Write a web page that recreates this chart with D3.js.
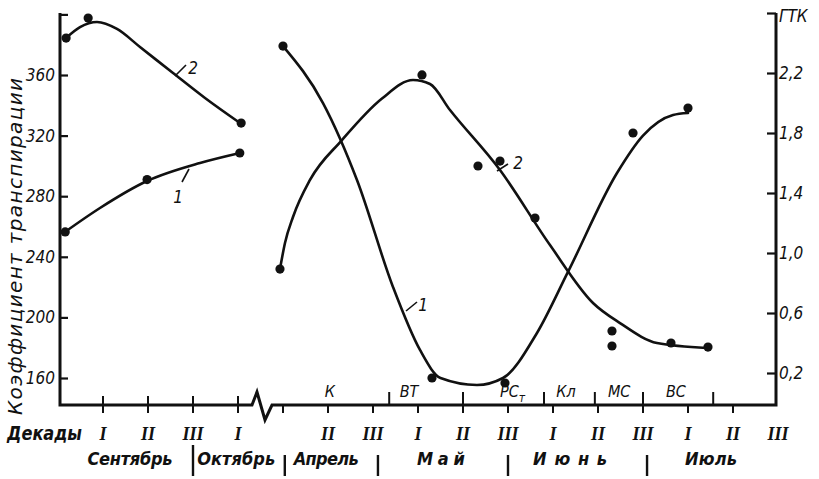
<!DOCTYPE html>
<html><head><meta charset="utf-8">
<script src="https://cdn.jsdelivr.net/npm/d3@7"></script>
<style>
body{margin:0;background:#fff;}
svg text{font-family:"Liberation Sans Narrow","DejaVu Sans Condensed","Liberation Sans",sans-serif;font-style:italic;fill:#111;}
svg text.roman{font-family:"Liberation Serif","DejaVu Serif",serif;font-weight:bold;}
svg text.wide{font-family:"DejaVu Sans",sans-serif;}
</style></head><body>
<svg id="c" width="819" height="479"></svg>
<script>
// ---------- data (x = decade index: Sep I = 0 … Jul III = 15) ----------
const decadeLabels = ["I","II","III","I","","II","III","I","II","III","I","II","III","I","II","III"];
const months = ["Сентябрь","Октябрь","Апрель","Май","Июнь","Июль"];
const monthCenters = [0.6, 2.96, 4.96, 7.51, 10.38, 13.51];
const monthBounds = [2.0, 4.04, 6.11, 9.0, 12.09];
const stages = ["К","ВТ","РС","Кл","МС","ВС"];
const stageCenters = [5.04, 6.8, 9.1, 10.29, 11.47, 12.73];
const stageBounds = [6.36, 8, 9.8, 10.93, 12, 13.56];
const leftTicks = [160,200,240,280,320,360,400];
const rightTicks = [0.2,0.6,1.0,1.4,1.8,2.2,2.6];

// autumn (Sep–Oct), transpiration coefficient
const autumn1Curve = [[-0.844,256.4],[-0.067,272.2],[0.978,290.0],[2.156,301.9],[3.044,308.5]];
const autumn1Dots  = [[-0.84,256.4],[0.98,291],[3.04,308.5]];
const autumn2Curve = [[-0.822,384.4],[-0.511,391.6],[-0.133,395.0],[0.311,390.4],[0.822,378.5],[1.556,361.3],[2.267,344.8],[3.044,328.3]];
const autumn2Dots  = [[-0.82,384.4],[-0.33,397.6],[3.07,328.3]];

// spring–summer: curve 1 transpiration coefficient (left axis)
const spring1Curve = [[4.0,379.1],[4.889,341.5],[5.644,290.7],[6.444,220.1],[7.044,178.5],[7.5,160],[8.311,155.4],[8.889,160],[9.644,189.7],[10.333,230],[11.422,295.3],[12.0,320],[12.667,333.6],[13.0,334.9]];
const spring1Dots  = [[4.0,379.1],[7.311,160],[8.933,156.7],[11.778,321.7],[13.0,338.2]];
// curve 2 ГТК (right axis)
const spring2Curve = [[3.933,0.893],[4.044,1.067],[4.222,1.24],[4.6,1.487],[5.311,1.753],[6.2,2.03],[6.889,2.153],[7.267,2.127],[7.711,1.953],[8.822,1.553],[9.933,1.053],[10.889,0.667],[11.489,0.533],[12.311,0.4],[13.422,0.367]];
const spring2Dots  = [[3.933,0.893],[7.089,2.187],[8.333,1.58],[8.822,1.613],[9.6,1.233],[11.311,0.48],[11.311,0.38],[12.622,0.4],[13.444,0.373]];

// ---------- layout ----------
const L=60, R=776, T=13, B=405;
const ink="#111";
const x  = d3.scaleLinear().domain([0,14]).range([103,733]);
const yL = d3.scaleLinear().domain([160,360]).range([378,75]);
const yR = d3.scaleLinear().domain([0.2,2.2]).range([373,73]);
const svg = d3.select("#c");

function drawCurve(data, ys){
  svg.append("path").datum(data)
    .attr("fill","none").attr("stroke",ink).attr("stroke-width",2.6).attr("stroke-linecap","round")
    .attr("d", d3.line().x(d=>x(d[0])).y(d=>ys(d[1])).curve(d3.curveMonotoneX));
}
function drawDots(data, ys){
  svg.append("g").selectAll("circle").data(data).join("circle")
    .attr("cx",d=>x(d[0])).attr("cy",d=>ys(d[1])).attr("r",4.6).attr("fill",ink);
}
drawCurve(autumn1Curve,yL); drawDots(autumn1Dots,yL);
drawCurve(autumn2Curve,yL); drawDots(autumn2Dots,yL);
drawCurve(spring1Curve,yL); drawDots(spring1Dots,yL);
drawCurve(spring2Curve,yR); drawDots(spring2Dots,yR);

// axes
const ax = svg.append("g").attr("fill","none").attr("stroke",ink);
ax.append("path").attr("stroke-width",3)
  .attr("d",`M${L},${T}V${B}H252L257,392L265,420L272,${B}H${R}V${T}`);

const gl = svg.append("g").attr("transform",`translate(${L},0)`)
  .call(d3.axisLeft(yL).tickValues(leftTicks).tickSize(-8).tickPadding(5).tickFormat(d=>d===400?"":d));
const gr = svg.append("g").attr("transform",`translate(${R},0)`)
  .call(d3.axisRight(yR).tickValues(rightTicks).tickSize(-9).tickPadding(3)
    .tickFormat(d=>d>2.5?"":d.toFixed(1).replace(".",",")));
[gl,gr].forEach(g=>{
  g.select(".domain").remove();
  g.selectAll(".tick line").attr("stroke",ink).attr("stroke-width",2.2);
  g.selectAll(".tick text").attr("font-size",17).attr("font-family",null).attr("fill",ink);
});

// decade ticks
ax.append("g").selectAll("line").data(d3.range(0,15)).join("line")
  .attr("stroke-width",2)
  .attr("x1",d=>x(d)).attr("x2",d=>x(d))
  .attr("y1",d=>d<=3?396:B).attr("y2",413);
// stage boundary ticks
ax.append("g").selectAll("line").data(stageBounds).join("line")
  .attr("stroke-width",2)
  .attr("x1",d=>x(d)).attr("x2",d=>x(d)).attr("y1",392).attr("y2",B);
// month separators
ax.append("g").selectAll("line").data(monthBounds).join("line")
  .attr("stroke-width",2.4)
  .attr("x1",d=>x(d)).attr("x2",d=>x(d))
  .attr("y1",(d,i)=>i===0?445:455).attr("y2",476);

// decade labels
svg.append("g").selectAll("text").data(decadeLabels).join("text")
  .attr("class","roman").attr("font-size",18).attr("text-anchor","middle")
  .attr("x",(d,i)=>x(i)).attr("y",440).text(d=>d);
svg.append("text").attr("x",7).attr("y",440).attr("font-size",19)
  .attr("textLength",75).attr("lengthAdjust","spacingAndGlyphs").attr("font-weight","bold").text("Декады");

// month labels
const monthW = [85,78,65,48,74,52];
svg.append("g").selectAll("text").data(months).join("text")
  .attr("font-size",18).attr("font-weight","bold").attr("text-anchor","middle")
  .attr("x",(d,i)=>x(monthCenters[i])).attr("y",465)
  .attr("textLength",(d,i)=>monthW[i]).attr("lengthAdjust","spacing")
  .text(d=>d);

// stage labels
const st = svg.append("g").selectAll("text").data(stages).join("text")
  .attr("font-size",16).attr("text-anchor","middle")
  .attr("x",(d,i)=>x(stageCenters[i])).attr("y",397).text(d=>d);
st.filter((d,i)=>i===2).append("tspan").attr("font-size",12).attr("dy",5).text("т");

// y titles
svg.append("text").attr("class","wide").attr("transform","translate(22,415) rotate(-90)")
  .attr("font-size",20).attr("textLength",337).attr("lengthAdjust","spacing")
  .text("Коэффициент транспирации");
svg.append("text").attr("x",779).attr("y",22).attr("font-size",17).text("ГТК");

// curve labels
const ann = [
  {t:"2", tx:193, ty:74, x1:175, y1:76, x2:186, y2:65},
  {t:"1", tx:178, ty:203, x1:189, y1:169, x2:182, y2:182},
  {t:"1", tx:423, ty:311, x1:406, y1:311, x2:417, y2:302},
  {t:"2", tx:518, ty:169, x1:497, y1:171, x2:508, y2:164}
];
ann.forEach(a=>{
  svg.append("line").attr("x1",a.x1).attr("y1",a.y1).attr("x2",a.x2).attr("y2",a.y2)
    .attr("stroke",ink).attr("stroke-width",1.6);
  svg.append("text").attr("x",a.tx).attr("y",a.ty).attr("font-size",17).attr("text-anchor","middle").text(a.t);
});
</script></body></html>
